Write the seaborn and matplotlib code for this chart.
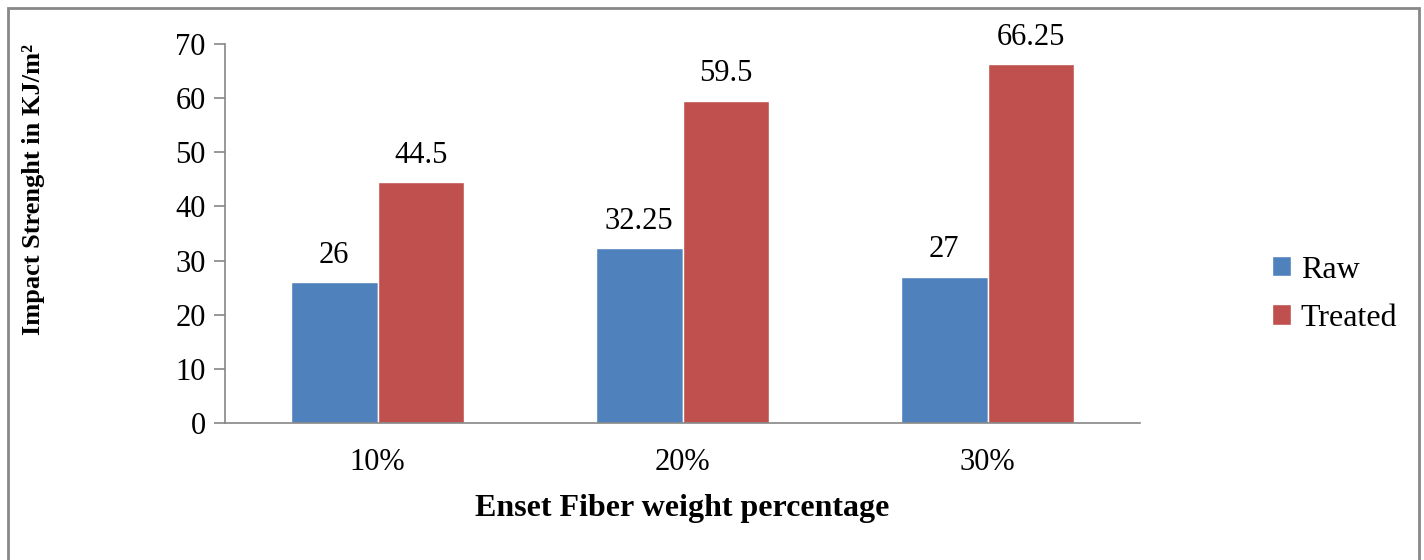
import pandas as pd
import matplotlib
matplotlib.use("Agg")
import matplotlib.pyplot as plt
import seaborn as sns
from matplotlib.patches import Rectangle

# Chart data
categories = ["10%", "20%", "30%"]
raw_values = [26, 32.25, 27]
treated_values = [44.5, 59.5, 66.25]
series_names = ["Raw", "Treated"]

df = pd.DataFrame({
    "Percentage": categories * 2,
    "Strength": raw_values + treated_values,
    "Type": [series_names[0]] * 3 + [series_names[1]] * 3,
})

sns.set_style("white")
plt.rcParams["font.family"] = ["Liberation Serif", "DejaVu Serif"]
plt.rcParams["text.color"] = "black"
plt.rcParams["axes.labelcolor"] = "black"
plt.rcParams["xtick.color"] = "black"
plt.rcParams["ytick.color"] = "black"

fig = plt.figure(figsize=(14.24, 5.6), dpi=100)
ax = fig.add_axes([0.158, 0.2446, 0.6426, 0.6768])

palette = {"Raw": "#4F81BD", "Treated": "#C0504D"}
sns.barplot(data=df, x="Percentage", y="Strength", hue="Type", palette=palette,
            width=0.57, saturation=1, ax=ax, legend=True)

for cont in ax.containers:
    ax.bar_label(cont, labels=[f"{v:g}" for v in cont.datavalues],
                 padding=9, fontsize=22, color="black")

ax.set_ylim(0, 70)
ax.set_yticks(range(0, 71, 10))
ax.set_xlim(-0.5, 2.5)
ax.tick_params(axis="y", labelsize=22, length=8, color="#868686", width=1.2, pad=6,
               left=True, labelcolor="black")
ax.tick_params(axis="x", labelsize=22, length=0, pad=18, labelcolor="black")
for s in ["top", "right"]:
    ax.spines[s].set_visible(False)
for s in ["left", "bottom"]:
    ax.spines[s].set_color("#868686")
    ax.spines[s].set_linewidth(1.2)

ax.set_xlabel("Enset Fiber weight percentage", fontsize=23, fontweight="bold", labelpad=12)
ax.set_ylabel("Impact Strenght in KJ/m²", fontsize=19, fontweight="bold")
ax.yaxis.set_label_coords(-0.197, 0.617)

leg = ax.legend(loc="center left", bbox_to_anchor=(1.144, 0.34), frameon=False,
                fontsize=23, handlelength=0.6, handleheight=0.6, handletextpad=0.3,
                labelspacing=0.6, borderpad=0, borderaxespad=0)

# outer chart border
fig.patches.append(Rectangle((8 / 1424, -0.02), 1411 / 1424, 1 - 8 / 560 + 0.02,
                             transform=fig.transFigure, fill=False,
                             edgecolor="#888888", linewidth=2))

fig.savefig("out.png", dpi=100)
